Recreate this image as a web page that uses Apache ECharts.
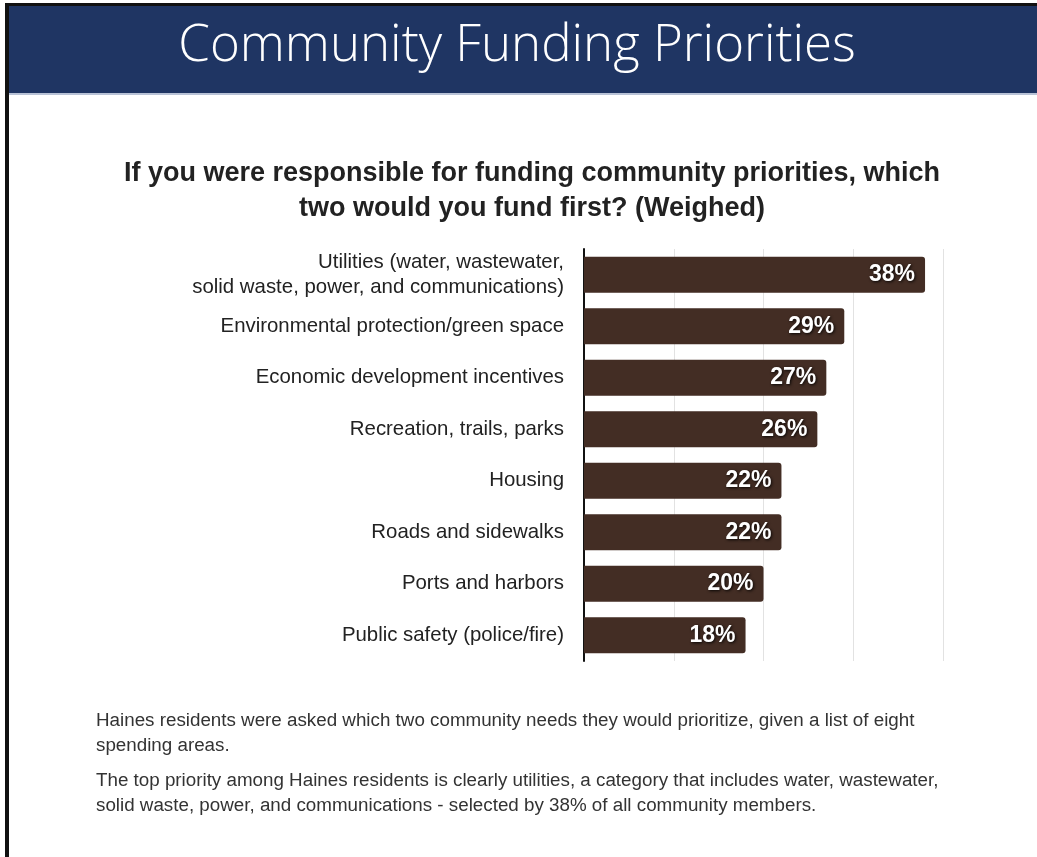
<!DOCTYPE html>
<html>
<head>
<meta charset="utf-8">
<script src="https://cdn.jsdelivr.net/npm/echarts@6/dist/echarts.min.js"></script>
<style>
  html, body { margin: 0; padding: 0; background: #fff; }
  #chart { width: 1037px; height: 857px; }
</style>
</head>
<body>
<div id="chart"></div>
<script>
const categories = [
  'Utilities (water, wastewater,\nsolid waste, power, and communications)',
  'Environmental protection/green space',
  'Economic development incentives',
  'Recreation, trails, parks',
  'Housing',
  'Roads and sidewalks',
  'Ports and harbors',
  'Public safety (police/fire)'
]
const percents = [38, 29, 27, 26, 22, 22, 20, 18]
const axisTicks = [0, 10, 20, 30, 40]

const notes = [
  'Haines residents were asked which two community needs they would prioritize, given a list of eight\nspending areas.',
  'The top priority among Haines residents is clearly utilities, a category that includes water, wastewater,\nsolid waste, power, and communications - selected by 38% of all community members.'
]

const chart = echarts.init(document.getElementById('chart'))

const option = {
  animation: false,
  title: {
    text: 'If you were responsible for funding community priorities, which\ntwo would you fund first? (Weighed)',
    left: 527,
    top: 151,
    textAlign: 'center',
    textStyle: {
      fontFamily: 'Liberation Sans',
      fontWeight: 'bold',
      fontSize: 27,
      lineHeight: 35,
      color: '#222'
    }
  },
  graphic: [
    // header band
    { type: 'rect', left: 7, top: 6, shape: { width: 1030, height: 87 }, style: { fill: '#1f3563' }, z: 1 },
    { type: 'rect', left: 7, top: 93, shape: { width: 1030, height: 2 }, style: { fill: '#b8c2d6' }, z: 1 },
    // slide border
    { type: 'rect', left: 5, top: 3, shape: { width: 1032, height: 3 }, style: { fill: '#111' }, z: 2 },
    { type: 'rect', left: 5, top: 3, shape: { width: 4, height: 854 }, style: { fill: '#111' }, z: 2 },
    {
      type: 'text', x: 517, y: 46, z: 3,
      style: {
        text: 'Community Funding Priorities',
        align: 'center',
        verticalAlign: 'middle',
        fill: '#fff',
        font: '300 51px "Open Sans"'
      }
    },
    {
      type: 'text', left: 96, top: 708, z: 3,
      style: { text: notes[0], fill: '#333', font: '18.8px "Liberation Sans"', lineHeight: 25 }
    },
    {
      type: 'text', left: 96, top: 768, z: 3,
      style: { text: notes[1], fill: '#333', font: '18.8px "Liberation Sans"', lineHeight: 25 }
    }
  ],
  grid: { left: 584, right: 94, top: 249, bottom: 196 },
  xAxis: {
    type: 'value',
    min: axisTicks[0],
    max: axisTicks[axisTicks.length - 1],
    interval: 10,
    axisLabel: { show: false },
    axisTick: { show: false },
    axisLine: { show: false },
    splitLine: { lineStyle: { color: '#e2e2e2', width: 1 } }
  },
  yAxis: {
    type: 'category',
    inverse: true,
    data: categories,
    axisTick: { show: false },
    axisLine: { lineStyle: { color: '#111', width: 2 } },
    axisLabel: {
      margin: 20,
      fontFamily: 'Liberation Sans',
      fontSize: 20.4,
      lineHeight: 25,
      color: '#222',
      align: 'right'
    }
  },
  series: [{
    type: 'bar',
    data: percents,
    barCategoryGap: '30%',
    itemStyle: { color: '#432d24', borderRadius: [0, 3, 3, 0] },
    label: {
      show: true,
      position: 'insideRight',
      distance: 10,
      formatter: '{c}%',
      color: '#fff',
      fontFamily: 'Liberation Sans',
      fontWeight: 'bold',
      fontSize: 23,
      textShadowColor: 'rgba(0,0,0,0.9)',
      textShadowBlur: 3,
      textShadowOffsetX: 1,
      textShadowOffsetY: 1
    }
  }]
}

chart.setOption(option)
</script>
</body>
</html>
